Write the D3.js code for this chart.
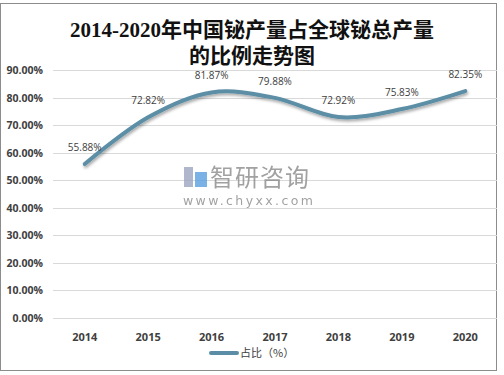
<!DOCTYPE html>
<html>
<head>
<meta charset="utf-8">
<script src="https://cdn.jsdelivr.net/npm/d3@7"></script>
<style>
  body { margin: 0; background: #fff; }
  svg { display: block; }
</style>
</head>
<body>
<script>
// chart data
const years = ["2014", "2015", "2016", "2017", "2018", "2019", "2020"];
const shares = [55.88, 72.82, 81.87, 79.88, 72.92, 75.83, 82.35];
const yTicks = [0, 10, 20, 30, 40, 50, 60, 70, 80, 90];
const titleLines = ["2014-2020年中国铋产量占全球铋总产量", "的比例走势图"];
const seriesName = "占比（%）";

const width = 504;
const height = 375;
const margin = { top: 70, right: 7, bottom: 57, left: 53 };
const lineColor = "#5b8ea6";

const svg = d3.select("body").append("svg")
    .attr("width", width)
    .attr("height", height);

// outer frame
svg.append("rect")
    .attr("x", 0.5).attr("y", 3.5)
    .attr("width", 496).attr("height", 367)
    .attr("fill", "#fff")
    .attr("stroke", "#8c8c8c");

const x = d3.scaleBand()
    .domain(years)
    .range([margin.left, width - margin.right]);

const y = d3.scaleLinear()
    .domain([0, 90])
    .range([height - margin.bottom, margin.top]);

// title
svg.append("g")
  .selectAll("text")
  .data(titleLines)
  .join("text")
    .attr("x", 252)
    .attr("y", (d, i) => 37 + i * 26)
    .attr("text-anchor", "middle")
    .attr("font-family", "'Liberation Serif', 'Noto Sans CJK SC', serif")
    .attr("font-weight", "bold")
    .attr("font-size", 21)
    .attr("fill", "#111")
    .text(d => d);

// gridlines
svg.append("g")
  .selectAll("line")
  .data(yTicks)
  .join("line")
    .attr("x1", margin.left)
    .attr("x2", width - margin.right)
    .attr("y1", d => Math.round(y(d)) + 0.5)
    .attr("y2", d => Math.round(y(d)) + 0.5)
    .attr("stroke", "#d9d9d9");

// y labels
svg.append("g")
  .selectAll("text")
  .data(yTicks)
  .join("text")
    .attr("x", 43)
    .attr("y", d => y(d) + 4)
    .attr("text-anchor", "end")
    .attr("font-family", "'Open Sans', 'Noto Sans', sans-serif")
    .attr("font-weight", "bold")
    .attr("font-size", 10.5)
    .attr("fill", "#404040")
    .text(d => d.toFixed(2) + "%");

// x labels
svg.append("g")
  .selectAll("text")
  .data(years)
  .join("text")
    .attr("x", d => x(d) + x.bandwidth() / 2)
    .attr("y", 341)
    .attr("text-anchor", "middle")
    .attr("font-family", "'Open Sans', 'Noto Sans', sans-serif")
    .attr("font-weight", "bold")
    .attr("font-size", 11)
    .attr("fill", "#404040")
    .text(d => d);

// watermark
const wm = svg.append("g").attr("opacity", 0.8);
wm.append("rect").attr("x", 184).attr("y", 167).attr("width", 9).attr("height", 20).attr("fill", "#9aa6c0");
wm.append("rect").attr("x", 195).attr("y", 172).attr("width", 12).attr("height", 15).attr("fill", "#5aa0e0");
wm.append("text")
    .attr("x", 210).attr("y", 186)
    .attr("font-family", "'Noto Sans CJK SC', sans-serif")
    .attr("font-size", 24)
    .attr("letter-spacing", 1)
    .attr("fill", "#8a8a8a")
    .text("智研咨询");
wm.append("text")
    .attr("x", 183).attr("y", 205)
    .attr("font-family", "'DejaVu Sans', sans-serif")
    .attr("font-size", 12.5)
    .attr("letter-spacing", 2.4)
    .attr("fill", "#8a8a8a")
    .text("www.chyxx.com");

// line with soft shadow
const line = d3.line()
    .x((d, i) => x(years[i]) + x.bandwidth() / 2)
    .y(d => y(d))
    .curve(d3.curveCardinal.tension(0));

const defs = svg.append("defs");
const filter = defs.append("filter").attr("id", "shadow")
    .attr("x", "-10%").attr("y", "-10%").attr("width", "120%").attr("height", "130%");
filter.append("feDropShadow")
    .attr("dx", 1).attr("dy", 2).attr("stdDeviation", 1.5)
    .attr("flood-color", "#000").attr("flood-opacity", 0.35);

svg.append("path")
    .datum(shares)
    .attr("d", line)
    .attr("fill", "none")
    .attr("stroke", lineColor)
    .attr("stroke-width", 4)
    .attr("stroke-linecap", "round")
    .attr("filter", "url(#shadow)");

// data labels
svg.append("g")
  .selectAll("text")
  .data(shares)
  .join("text")
    .attr("x", (d, i) => x(years[i]) + x.bandwidth() / 2)
    .attr("y", d => y(d) - 13)
    .attr("text-anchor", "middle")
    .attr("font-family", "'Open Sans', 'Noto Sans', sans-serif")
    .attr("font-size", 10)
    .attr("fill", "#404040")
    .text(d => d.toFixed(2) + "%");

// legend
svg.append("line")
    .attr("x1", 211).attr("x2", 237)
    .attr("y1", 353).attr("y2", 353)
    .attr("stroke", lineColor)
    .attr("stroke-width", 4)
    .attr("stroke-linecap", "round");
svg.append("text")
    .attr("x", 240).attr("y", 357)
    .attr("font-family", "'Noto Sans CJK SC', sans-serif")
    .attr("font-size", 11)
    .attr("fill", "#404040")
    .text(seriesName);
</script>
</body>
</html>
